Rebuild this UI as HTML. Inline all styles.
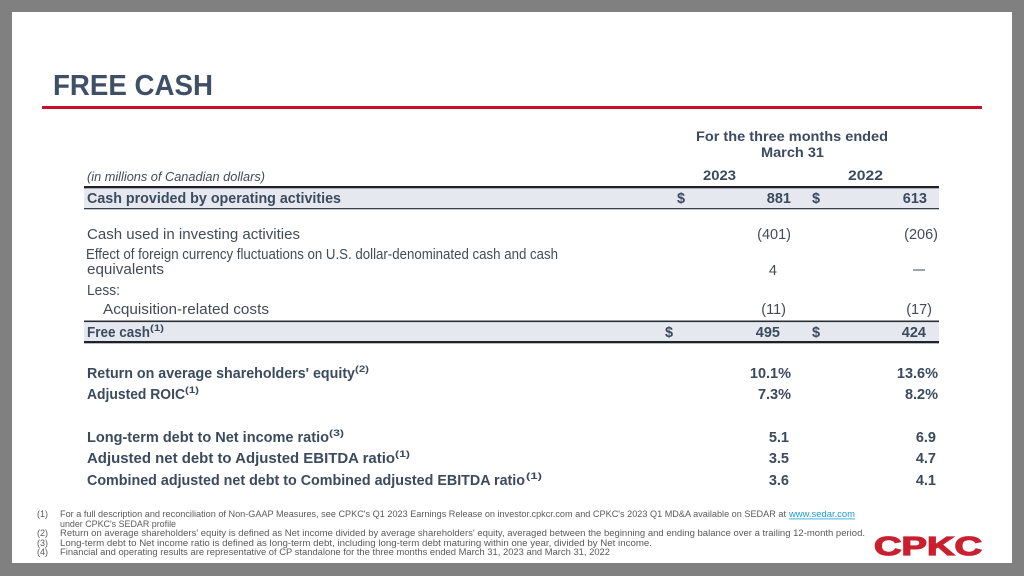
<!DOCTYPE html>
<html><head><meta charset="utf-8"><style>
html,body{margin:0;padding:0;width:1024px;height:576px;overflow:hidden;background:#808080}
svg{display:block}
</style></head><body>
<svg width="1024" height="576" viewBox="0 0 1024 576" xmlns="http://www.w3.org/2000/svg" font-family="'Liberation Sans', sans-serif">
<rect x="0" y="0" width="1024" height="576" fill="#808080"/>
<rect x="12" y="12" width="1000" height="551" fill="#ffffff"/>

<!-- Title -->
<text x="53" y="95" font-size="29" font-weight="bold" fill="#3e4f66" textLength="160" lengthAdjust="spacingAndGlyphs">FREE CASH</text>
<rect x="42" y="106" width="940" height="3" fill="#c8102e"/>

<!-- Header -->
<g font-weight="bold" fill="#3b4a5e" font-size="14">
<text x="696" y="141" textLength="192" lengthAdjust="spacingAndGlyphs">For the three months ended</text>
<text x="761" y="157" textLength="63" lengthAdjust="spacingAndGlyphs">March 31</text>
<text x="703" y="180" textLength="33" lengthAdjust="spacingAndGlyphs">2023</text>
<text x="848" y="180" textLength="35" lengthAdjust="spacingAndGlyphs">2022</text>
</g>
<text x="87" y="181" font-size="12.5" font-style="italic" fill="#404a56" textLength="178" lengthAdjust="spacingAndGlyphs">(in millions of Canadian dollars)</text>

<!-- Row 1 shading and lines -->
<rect x="84" y="188" width="855" height="20" fill="#e5e9ef"/>
<rect x="84" y="186" width="855" height="2.3" fill="#1f2329"/>
<rect x="84" y="208" width="855" height="1.3" fill="#3a3f46"/>

<!-- Free cash shading and lines -->
<rect x="84" y="322" width="855" height="19" fill="#e5e9ef"/>
<rect x="84" y="320.5" width="855" height="1.6" fill="#2a2f36"/>
<rect x="84" y="341" width="855" height="2.3" fill="#1f2329"/>

<!-- Row labels -->
<g font-size="14.5" fill="#3b4a5e" font-weight="bold">
<text x="87" y="203" textLength="254" lengthAdjust="spacingAndGlyphs">Cash provided by operating activities</text>
<text x="87" y="337" textLength="63" lengthAdjust="spacingAndGlyphs">Free cash</text>
<text x="150" y="331" font-size="9" textLength="14" lengthAdjust="spacingAndGlyphs">(1)</text>
</g>
<g font-size="14.5" fill="#434b55">
<text x="87" y="239" textLength="213" lengthAdjust="spacingAndGlyphs">Cash used in investing activities</text>
<text x="86" y="259" textLength="472" lengthAdjust="spacingAndGlyphs">Effect of foreign currency fluctuations on U.S. dollar-denominated cash and cash</text>
<text x="87" y="274" textLength="77" lengthAdjust="spacingAndGlyphs">equivalents</text>
<text x="87" y="295" textLength="33" lengthAdjust="spacingAndGlyphs">Less:</text>
<text x="103" y="314" textLength="166" lengthAdjust="spacingAndGlyphs">Acquisition-related costs</text>
</g>

<!-- Row values -->
<g font-size="14.5" fill="#3b4a5e" font-weight="bold">
<text x="677" y="203">$</text>
<text x="791" y="203" text-anchor="end">881</text>
<text x="812" y="203">$</text>
<text x="927" y="203" text-anchor="end">613</text>
<text x="665" y="337">$</text>
<text x="780" y="337" text-anchor="end">495</text>
<text x="812" y="337">$</text>
<text x="926" y="337" text-anchor="end">424</text>
</g>
<g font-size="14.5" fill="#434b55">
<text x="791" y="239" text-anchor="end">(401)</text>
<text x="938" y="239" text-anchor="end">(206)</text>
<text x="777" y="275" text-anchor="end">4</text>
<text x="913" y="274" textLength="12" lengthAdjust="spacingAndGlyphs">—</text>
<text x="786" y="314" text-anchor="end">(11)</text>
<text x="932" y="314" text-anchor="end">(17)</text>
</g>

<!-- Ratios -->
<g font-size="14.5" fill="#3b4a5e" font-weight="bold">
<text x="87" y="378" textLength="268" lengthAdjust="spacingAndGlyphs">Return on average shareholders' equity</text>
<text x="355" y="372" font-size="9" textLength="14" lengthAdjust="spacingAndGlyphs">(2)</text>
<text x="87" y="399" textLength="98" lengthAdjust="spacingAndGlyphs">Adjusted ROIC</text>
<text x="185" y="393" font-size="9" textLength="14" lengthAdjust="spacingAndGlyphs">(1)</text>
<text x="87" y="442" textLength="242" lengthAdjust="spacingAndGlyphs">Long-term debt to Net income ratio</text>
<text x="329" y="436" font-size="9" textLength="15" lengthAdjust="spacingAndGlyphs">(3)</text>
<text x="87" y="463" textLength="308" lengthAdjust="spacingAndGlyphs">Adjusted net debt to Adjusted EBITDA ratio</text>
<text x="395" y="457" font-size="9" textLength="15" lengthAdjust="spacingAndGlyphs">(1)</text>
<text x="87" y="485" textLength="438" lengthAdjust="spacingAndGlyphs">Combined adjusted net debt to Combined adjusted EBITDA ratio</text>
<text x="526" y="479" font-size="9" textLength="16" lengthAdjust="spacingAndGlyphs">(1)</text>

<text x="791" y="378" text-anchor="end">10.1%</text>
<text x="938" y="378" text-anchor="end">13.6%</text>
<text x="791" y="399" text-anchor="end">7.3%</text>
<text x="938" y="399" text-anchor="end">8.2%</text>
<text x="789" y="442" text-anchor="end">5.1</text>
<text x="936" y="442" text-anchor="end">6.9</text>
<text x="789" y="463" text-anchor="end">3.5</text>
<text x="936" y="463" text-anchor="end">4.7</text>
<text x="789" y="485" text-anchor="end">3.6</text>
<text x="936" y="485" text-anchor="end">4.1</text>
</g>

<!-- Footnotes -->
<g font-size="9" fill="#5a5a5a">
<text x="37" y="517">(1)</text>
<text x="60" y="517" textLength="726" lengthAdjust="spacingAndGlyphs">For a full description and reconciliation of Non-GAAP Measures, see CPKC's Q1 2023 Earnings Release on investor.cpkcr.com and CPKC's 2023 Q1 MD&amp;A available on SEDAR at</text>
<text x="789" y="517" fill="#1a9bd7" textLength="66" lengthAdjust="spacingAndGlyphs">www.sedar.com</text>
<rect x="789" y="518.5" width="66" height="0.8" fill="#1a9bd7"/>
<text x="60" y="527" textLength="116" lengthAdjust="spacingAndGlyphs">under CPKC's SEDAR profile</text>
<text x="37" y="536">(2)</text>
<text x="60" y="536" textLength="805" lengthAdjust="spacingAndGlyphs">Return on average shareholders' equity is defined as Net income divided by average shareholders' equity, averaged between the beginning and ending balance over a trailing 12-month period.</text>
<text x="37" y="546">(3)</text>
<text x="60" y="546" textLength="592" lengthAdjust="spacingAndGlyphs">Long-term debt to Net income ratio is defined as long-term debt, including long-term debt maturing within one year, divided by Net income.</text>
<text x="37" y="555">(4)</text>
<text x="60" y="555" textLength="550" lengthAdjust="spacingAndGlyphs">Financial and operating results are representative of CP standalone for the three months ended March 31, 2023 and March 31, 2022</text>
</g>

<!-- Logo -->
<text x="874" y="555" font-size="26" font-weight="bold" fill="#c8202f" stroke="#c8202f" stroke-width="1.2" textLength="108" lengthAdjust="spacingAndGlyphs">CPKC</text>
</svg>
</body></html>
